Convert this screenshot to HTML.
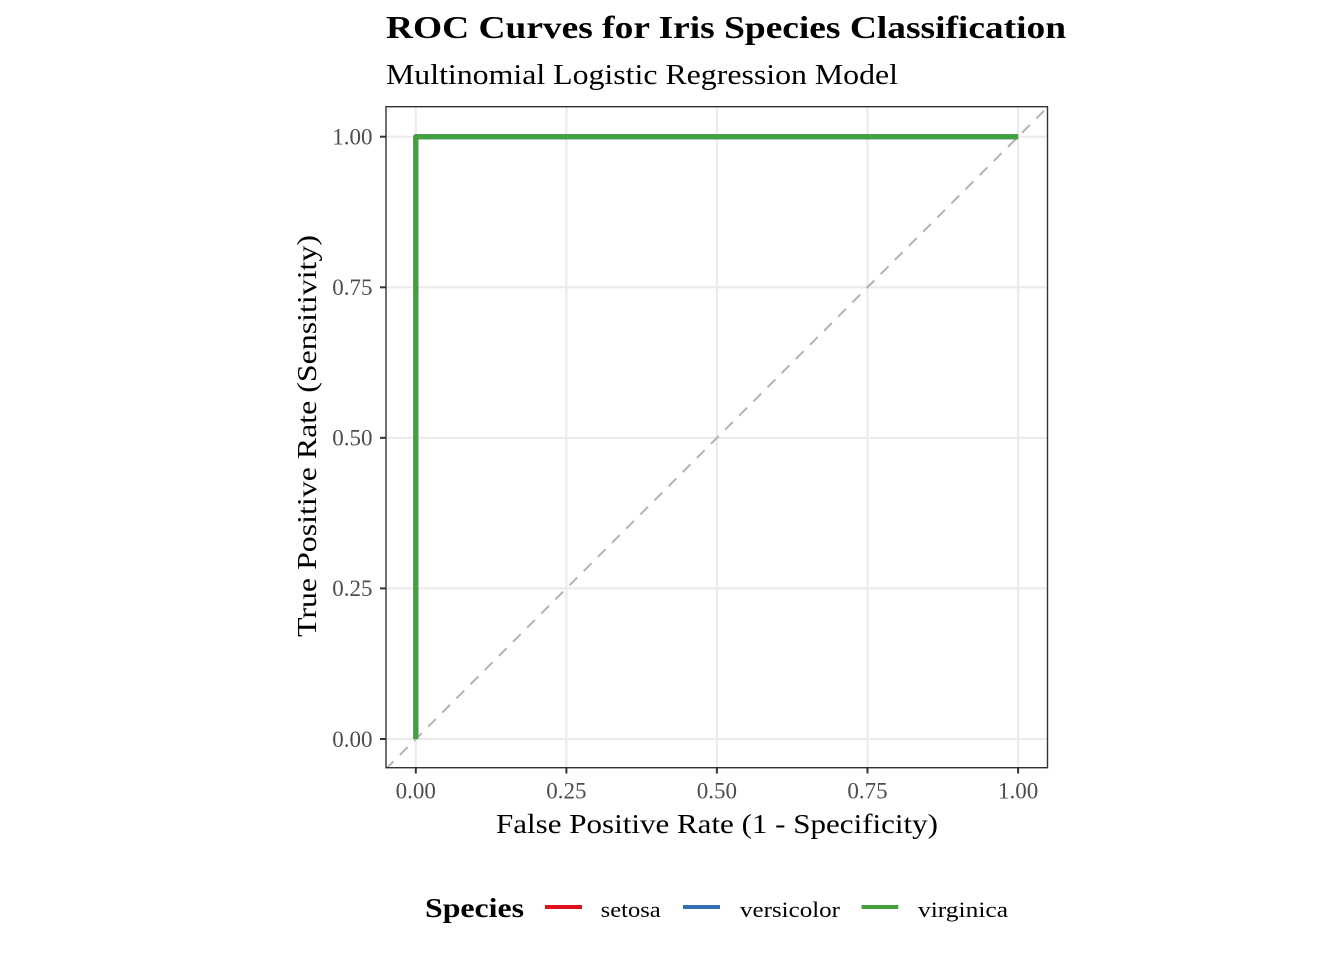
<!DOCTYPE html>
<html>
<head>
<meta charset="utf-8">
<style>
  html, body { margin:0; padding:0; background:#ffffff; }
  svg { display:block; }
  text { font-family: "Liberation Serif", serif; }
</style>
</head>
<body>
<svg width="1344" height="960" viewBox="0 0 1344 960" xmlns="http://www.w3.org/2000/svg">
  <rect x="0" y="0" width="1344" height="960" fill="#ffffff"/>

  <!-- Title & subtitle -->
  <text x="386" y="38" font-size="32" font-weight="bold" fill="#000" textLength="680" lengthAdjust="spacingAndGlyphs">ROC Curves for Iris Species Classification</text>
  <text x="386" y="84" font-size="28" fill="#000" textLength="512" lengthAdjust="spacingAndGlyphs">Multinomial Logistic Regression Model</text>

  <defs>
    <clipPath id="panel">
      <rect x="386" y="106.7" width="661.5" height="661"/>
    </clipPath>
  </defs>

  <!-- Panel background -->
  <rect x="386" y="106.7" width="661.5" height="661" fill="#ffffff"/>

  <!-- Major grid -->
  <g stroke="#EBEBEB" stroke-width="2.2" clip-path="url(#panel)">
    <line x1="415.8" y1="106.7" x2="415.8" y2="767.7"/>
    <line x1="566.4" y1="106.7" x2="566.4" y2="767.7"/>
    <line x1="716.9" y1="106.7" x2="716.9" y2="767.7"/>
    <line x1="867.5" y1="106.7" x2="867.5" y2="767.7"/>
    <line x1="1018.1" y1="106.7" x2="1018.1" y2="767.7"/>
    <line x1="386" y1="739" x2="1047.5" y2="739"/>
    <line x1="386" y1="588.4" x2="1047.5" y2="588.4"/>
    <line x1="386" y1="437.85" x2="1047.5" y2="437.85"/>
    <line x1="386" y1="287.3" x2="1047.5" y2="287.3"/>
    <line x1="386" y1="136.7" x2="1047.5" y2="136.7"/>
  </g>

  <!-- Diagonal reference line -->
  <g clip-path="url(#panel)">
    <line x1="385.7" y1="769.1" x2="1048.3" y2="106.5" stroke="#B3B3B3" stroke-width="2" stroke-dasharray="11 9"/>
  </g>

  <!-- ROC curves -->
  <g fill="none" stroke-width="5" stroke-linejoin="round" stroke-linecap="butt" clip-path="url(#panel)">
    <path d="M415.8,739 L415.8,136.7 L1018.1,136.7" stroke="#E41A1C"/>
    <path d="M415.8,739 L415.8,136.7 L1018.1,136.7" stroke="#377EB8"/>
    <path d="M415.8,739 L415.8,136.7 L1018.1,136.7" stroke="#41A13D"/>
  </g>

  <!-- Panel border -->
  <rect x="386" y="106.7" width="661.5" height="661" fill="none" stroke="#333333" stroke-width="1.4"/>

  <!-- Axis ticks -->
  <g stroke="#333333" stroke-width="2">
    <line x1="380" y1="739" x2="386" y2="739"/>
    <line x1="380" y1="588.4" x2="386" y2="588.4"/>
    <line x1="380" y1="437.85" x2="386" y2="437.85"/>
    <line x1="380" y1="287.3" x2="386" y2="287.3"/>
    <line x1="380" y1="136.7" x2="386" y2="136.7"/>
    <line x1="415.8" y1="767.7" x2="415.8" y2="773.5"/>
    <line x1="566.4" y1="767.7" x2="566.4" y2="773.5"/>
    <line x1="716.9" y1="767.7" x2="716.9" y2="773.5"/>
    <line x1="867.5" y1="767.7" x2="867.5" y2="773.5"/>
    <line x1="1018.1" y1="767.7" x2="1018.1" y2="773.5"/>
  </g>

  <!-- Y tick labels -->
  <g font-size="23" fill="#4D4D4D" text-anchor="end">
    <text x="372.5" y="746.8">0.00</text>
    <text x="372.5" y="596.2">0.25</text>
    <text x="372.5" y="445.6">0.50</text>
    <text x="372.5" y="295">0.75</text>
    <text x="372.5" y="144.5">1.00</text>
  </g>

  <!-- X tick labels -->
  <g font-size="23" fill="#4D4D4D" text-anchor="middle">
    <text x="415.8" y="798.5">0.00</text>
    <text x="566.4" y="798.5">0.25</text>
    <text x="716.9" y="798.5">0.50</text>
    <text x="867.5" y="798.5">0.75</text>
    <text x="1018.1" y="798.5">1.00</text>
  </g>

  <!-- Axis titles -->
  <text x="496" y="833" font-size="27" fill="#000" textLength="442" lengthAdjust="spacingAndGlyphs">False Positive Rate (1 - Specificity)</text>
  <text transform="translate(316,637) rotate(-90)" x="0" y="0" font-size="27" fill="#000" textLength="402" lengthAdjust="spacingAndGlyphs">True Positive Rate (Sensitivity)</text>

  <!-- Legend -->
  <text x="425" y="917" font-size="27" font-weight="bold" fill="#000" textLength="99" lengthAdjust="spacingAndGlyphs">Species</text>
  <line x1="545" y1="907" x2="582" y2="907" stroke="#E0101C" stroke-width="4"/>
  <text x="600.7" y="917" font-size="22" fill="#000" textLength="60" lengthAdjust="spacingAndGlyphs">setosa</text>
  <line x1="683" y1="907" x2="720" y2="907" stroke="#3470B4" stroke-width="4"/>
  <text x="740" y="917" font-size="22" fill="#000" textLength="100" lengthAdjust="spacingAndGlyphs">versicolor</text>
  <line x1="861.5" y1="907" x2="898.3" y2="907" stroke="#41A13D" stroke-width="4"/>
  <text x="918" y="917" font-size="22" fill="#000" textLength="90" lengthAdjust="spacingAndGlyphs">virginica</text>
</svg>
</body>
</html>
